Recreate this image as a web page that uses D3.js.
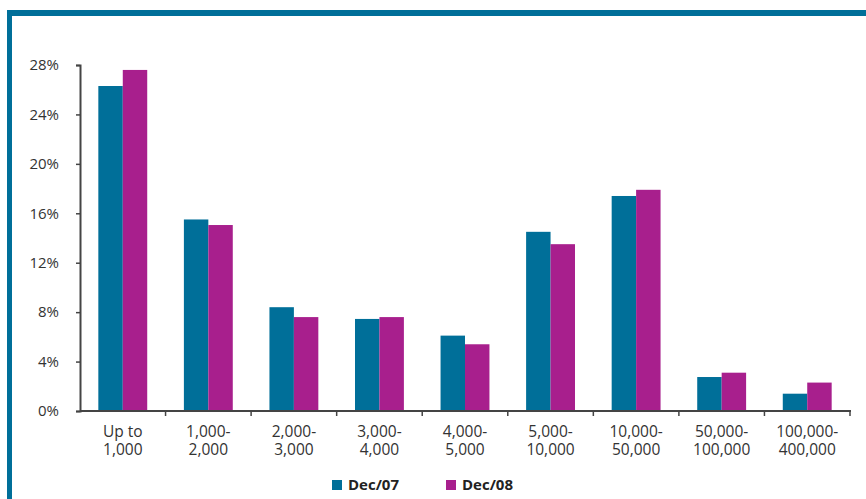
<!DOCTYPE html>
<html>
<head>
<meta charset="utf-8">
<script src="https://cdn.jsdelivr.net/npm/d3@7/dist/d3.min.js"></script>
<style>
  html, body { margin: 0; padding: 0; background: #fff; }
  svg { display: block; }
</style>
</head>
<body>
<svg id="chart" width="866" height="499"></svg>
<script>
// Distribution by bracket, share of total (%)
const categories = [
  ["Up to", "1,000"],
  ["1,000-", "2,000"],
  ["2,000-", "3,000"],
  ["3,000-", "4,000"],
  ["4,000-", "5,000"],
  ["5,000-", "10,000"],
  ["10,000-", "50,000"],
  ["50,000-", "100,000"],
  ["100,000-", "400,000"]
];
const seriesNames = ["Dec/07", "Dec/08"];
const dec07 = [26.3, 15.5, 8.4, 7.45, 6.1, 14.5, 17.4, 2.75, 1.4];
const dec08 = [27.6, 15.05, 7.6, 7.6, 5.4, 13.5, 17.9, 3.1, 2.3];
const yTicks = [0, 4, 8, 12, 16, 20, 24, 28];

const colors = ["#006f99", "#a81f8d"];
const svg = d3.select("#chart");
const font = "'Open Sans', 'DejaVu Sans', sans-serif";

// Frame: teal rule along the top and left edges
svg.append("rect").attr("x", 7).attr("y", 10).attr("width", 859).attr("height", 6).attr("fill", "#006f99");
svg.append("rect").attr("x", 7).attr("y", 10).attr("width", 5).attr("height", 489).attr("fill", "#006f99");

const plotLeft = 80, plotRight = 850, plotTop = 65, plotBottom = 411;

const x0 = d3.scaleBand().domain(d3.range(categories.length)).range([plotLeft, plotRight]).padding(0);
const x1 = d3.scaleBand().domain(seriesNames).range([0, x0.bandwidth()]).paddingInner(0).paddingOuter(0.75);
const y = d3.scaleLinear().domain([0, 28]).range([plotBottom, plotTop]);

const series = [dec07, dec08];

// Bars
const groups = svg.append("g").selectAll("g")
  .data(categories.map((c, i) => i))
  .join("g")
  .attr("transform", i => `translate(${x0(i)},0)`);

groups.selectAll("rect")
  .data(i => seriesNames.map((s, k) => ({ s, v: series[k][i], k })))
  .join("rect")
  .attr("x", d => x1(d.s))
  .attr("width", x1.bandwidth())
  .attr("y", d => y(d.v))
  .attr("height", d => y(0) - y(d.v))
  .attr("fill", d => colors[d.k]);

// Y axis
const yAxis = svg.append("g")
  .attr("transform", `translate(${plotLeft},0)`)
  .call(d3.axisLeft(y).tickValues(yTicks).tickFormat(d => d + "%").tickSize(4).tickPadding(17));
yAxis.select(".domain").attr("stroke", "#444").attr("stroke-width", 2);
yAxis.selectAll(".tick line").attr("stroke", "#444").attr("stroke-width", 1.5);
yAxis.selectAll(".tick text").attr("font-family", font).attr("font-size", 15).attr("fill", "#333");

// X axis with ticks between categories
const xAxisG = svg.append("g").attr("transform", `translate(0,${plotBottom})`);
xAxisG.append("line").attr("x1", plotLeft).attr("x2", plotRight + 1).attr("y1", 0).attr("y2", 0)
  .attr("stroke", "#444").attr("stroke-width", 2);
xAxisG.selectAll("line.tk")
  .data(d3.range(1, categories.length + 1))
  .join("line")
  .attr("class", "tk")
  .attr("x1", i => plotLeft + i * x0.step()).attr("x2", i => plotLeft + i * x0.step())
  .attr("y1", 0).attr("y2", 5)
  .attr("stroke", "#444").attr("stroke-width", 1.5);

const labels = xAxisG.selectAll("text")
  .data(categories)
  .join("text")
  .attr("text-anchor", "middle")
  .attr("font-family", font)
  .attr("font-size", 15.5)
  .attr("fill", "#333")
  .attr("transform", (d, i) => `translate(${x0(i) + x0.bandwidth() / 2},0)`);
labels.append("tspan").attr("x", 0).attr("y", 26).text(d => d[0]);
labels.append("tspan").attr("x", 0).attr("y", 44).text(d => d[1]);

// Legend
const legendX = [332, 446];
const legend = svg.append("g").selectAll("g")
  .data(seriesNames)
  .join("g")
  .attr("transform", (d, i) => `translate(${legendX[i]},480)`);
legend.append("rect").attr("width", 10).attr("height", 10).attr("fill", (d, i) => colors[i]);
legend.append("text")
  .attr("x", 16).attr("y", 10)
  .attr("font-family", font).attr("font-size", 15).attr("font-weight", "bold")
  .attr("fill", "#222")
  .text(d => d);
</script>
</body>
</html>
